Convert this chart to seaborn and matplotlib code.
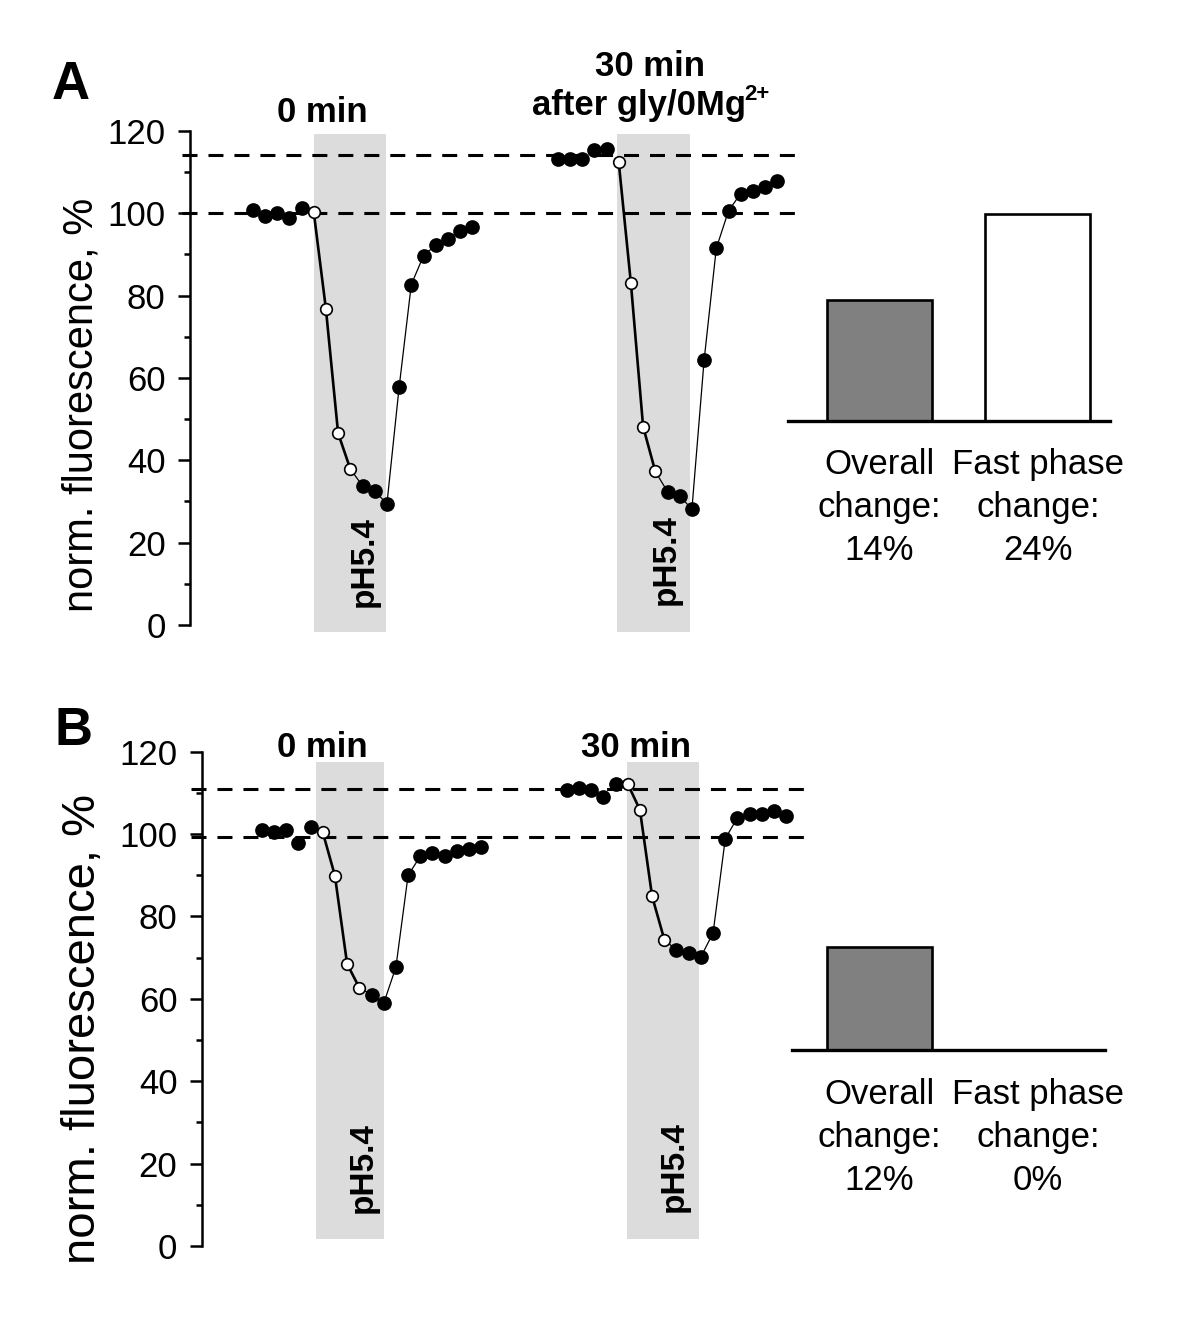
import numpy as np
import pandas as pd
import matplotlib
matplotlib.use("Agg")
import matplotlib.pyplot as plt
import seaborn as sns

# ---------------- data ----------------
# normalised fluorescence (%) per sample; samples 5-8 = fast phase (open circles)
trace_A_0min = [100.8, 99.4, 100.2, 98.9, 101.4, 100.4, 76.8, 46.6, 37.9, 33.8,
                32.6, 29.4, 57.7, 82.7, 89.7, 92.3, 93.8, 95.8, 96.8]
trace_A_30min = [113.3, 113.2, 113.2, 115.4, 115.6, 112.5, 83.0, 48.2, 37.3, 32.4,
                 31.4, 28.1, 64.3, 91.5, 100.6, 104.8, 105.5, 106.4, 107.8]
trace_B_0min = [101.0, 100.6, 101.0, 97.8, 101.6, 100.5, 89.9, 68.5, 62.7, 61.0,
                58.9, 67.7, 90.0, 94.6, 95.5, 94.8, 96.0, 96.5, 96.8]
trace_B_30min = [110.7, 111.1, 110.7, 109.0, 112.2, 112.2, 105.9, 84.9, 74.4, 71.8,
                 71.1, 70.2, 76.0, 98.9, 104.0, 104.9, 104.9, 105.6, 104.3]
recording_start = [0, 25]          # sample offset of the 0 min / 30 min recordings
fast_phase_samples = [5, 6, 7, 8]  # open circles
dashed_A = [100.1, 114.2]
dashed_B = [99.3, 110.9]
acid_window_A = [(5.02, 10.93), (29.86, 35.84)]
acid_window_B = [(4.45, 10.02), (29.97, 35.87)]
bar_names = ["Overall\nchange:", "Fast phase\nchange:"]
bars_A = [14, 24]
bars_B = [12, 0]
yticks = [0, 20, 40, 60, 80, 100, 120]

# ---------------- style ----------------
sns.set_theme(style="white")
plt.rcParams["font.family"] = ["Liberation Sans", "DejaVu Sans"]
plt.rcParams["lines.scale_dashes"] = False
plt.rcParams["text.color"] = "black"
plt.rcParams["axes.labelcolor"] = "black"
plt.rcParams["xtick.color"] = "black"
plt.rcParams["ytick.color"] = "black"

W, H = 1200, 1338
fig = plt.figure(figsize=(W / 100, H / 100), dpi=100)


def add_ax(l, t, r, b):
    return fig.add_axes([l / W, 1 - b / H, (r - l) / W, (b - t) / H])


def trace_axes(left, right, x0, step, y0px, y120px):
    ppu = (y0px - y120px) / 120.0
    top = y120px - 1 * ppu
    bot = y0px + 3 * ppu
    ax = add_ax(left, top, right, bot)
    ax.set_xlim((left - x0) / step, (right - x0) / step)
    ax.set_ylim(-3, 121)
    for s in ["top", "right", "bottom"]:
        ax.spines[s].set_visible(False)
    ax.spines["left"].set_bounds(0, 120)
    ax.spines["left"].set_linewidth(1.8)
    ax.spines["left"].set_color("black")
    ax.set_xticks([])
    ax.set_yticks(yticks)
    ax.set_yticks(np.arange(10, 120, 20), minor=True)
    ax.tick_params(axis="y", which="major", direction="out", length=8.5, width=1.8,
                   pad=9, labelsize=25, colors="black", left=True)
    ax.tick_params(axis="y", which="minor", direction="out", length=4.3, width=1.8,
                   left=True)
    ax.set_xlabel("")
    ax.set_ylabel("")
    ax.patch.set_alpha(0)
    return ax


def draw_trace(ax, vals, start):
    t = np.arange(len(vals)) + start
    df = pd.DataFrame({"t": t, "v": vals})
    fast = df.iloc[fast_phase_samples[0]:fast_phase_samples[-1] + 1]
    rest = df.iloc[fast_phase_samples[-1]:]
    sns.lineplot(data=fast, x="t", y="v", ax=ax, color="black", lw=1.9,
                 sort=False, estimator=None, zorder=2)
    sns.lineplot(data=rest, x="t", y="v", ax=ax, color="black", lw=0.9,
                 sort=False, estimator=None, zorder=2)
    filled = df.drop(index=fast_phase_samples)
    sns.scatterplot(data=filled, x="t", y="v", ax=ax, s=112, color="black",
                    edgecolor="black", linewidth=0, zorder=3)
    sns.scatterplot(data=df.iloc[fast_phase_samples], x="t", y="v", ax=ax, s=70,
                    color="white", edgecolor="black", linewidth=1.2, zorder=4)
    ax.set_xlabel("")
    ax.set_ylabel("")


def bar_axes(left, right, ybase, values):
    step = 158.6
    c0 = 879.2
    c1 = c0 + step
    top = ybase - 25 * 8.6
    ax = add_ax(left, top, right, ybase)
    labels = [f"{n}\n{v}%" for n, v in zip(bar_names, values)]
    sns.barplot(x=labels, y=values, hue=labels, palette=["#808080", "white"],
                edgecolor="black", linewidth=1.9, width=105 / step, ax=ax,
                legend=False, zorder=2)
    ax.set_xlim((left - c0) / step, 1 + (right - c1) / step)
    ax.set_ylim(0, 25)
    for s in ["top", "right", "left"]:
        ax.spines[s].set_visible(False)
    ax.spines["bottom"].set_linewidth(2.4)
    ax.spines["bottom"].set_color("black")
    ax.set_yticks([])
    ax.tick_params(axis="x", length=0, pad=20, labelsize=25, colors="black")
    for lab in ax.get_xticklabels():
        lab.set_linespacing(1.38)
    ax.set_xlabel("")
    ax.set_ylabel("")
    ax.patch.set_alpha(0)
    return ax


dash = (0, (10.8, 7.9))

# ---------------- panel A ----------------
axA = trace_axes(190, 800, 252.7, 12.2, 625, 131)
for (a, b) in acid_window_A:
    axA.fill_between([a, b], -1.7, 119.3, color="#dcdcdc", lw=0, zorder=0)
for lvl in dashed_A:
    axA.hlines(lvl, (182 - 252.7) / 12.2, (800 - 252.7) / 12.2, colors="black",
               linestyles=dash, lw=2.2, clip_on=False, zorder=1)
draw_trace(axA, trace_A_0min, recording_start[0])
draw_trace(axA, trace_A_30min, recording_start[1])
axA.text(9.86, 4.4, "pH5.4", rotation=90, rotation_mode="anchor", ha="left",
         va="baseline", fontsize=24, fontweight="bold", color="black", zorder=5)
axA.text(34.6, 4.9, "pH5.4", rotation=90, rotation_mode="anchor", ha="left",
         va="baseline", fontsize=24, fontweight="bold", color="black", zorder=5)
bar_axes(788, 1110, 420.7, bars_A)

# ---------------- panel B ----------------
axB = trace_axes(201.7, 808, 261.7, 12.2, 1246, 751.7)
for (a, b) in acid_window_B:
    axB.fill_between([a, b], 1.7, 117.6, color="#dcdcdc", lw=0, zorder=0)
for lvl in dashed_B:
    axB.hlines(lvl, (191 - 261.7) / 12.2, (808 - 261.7) / 12.2, colors="black",
               linestyles=dash, lw=2.2, clip_on=False, zorder=1)
draw_trace(axB, trace_B_0min, recording_start[0])
draw_trace(axB, trace_B_30min, recording_start[1])
axB.text(8.98, 8.0, "pH5.4", rotation=90, rotation_mode="anchor", ha="left",
         va="baseline", fontsize=24, fontweight="bold", color="black", zorder=5)
axB.text(34.5, 8.3, "pH5.4", rotation=90, rotation_mode="anchor", ha="left",
         va="baseline", fontsize=24, fontweight="bold", color="black", zorder=5)
bar_axes(791.7, 1105, 1050, bars_B)

# ---------------- figure texts ----------------
def ftext(px, py, s, **kw):
    return fig.text(px / W, 1 - py / H, s, color="black", **kw)


ftext(51.7, 99, "A", fontsize=38, fontweight="bold", ha="left", va="baseline")
ftext(55, 745, "B", fontsize=38, fontweight="bold", ha="left", va="baseline")
ftext(93, 405, "norm. fluorescence, %", rotation=90, rotation_mode="anchor",
      ha="center", va="baseline", fontsize=30)
ftext(95, 1029, "norm. fluorescence, %", rotation=90, rotation_mode="anchor",
      ha="center", va="baseline", fontsize=34)
ftext(322, 122, "0 min", fontsize=25, fontweight="bold", ha="center", va="baseline")
ftext(650, 76, "30 min", fontsize=25, fontweight="bold", ha="center", va="baseline")
t_after = ftext(639, 115, "after gly/0Mg", fontsize=25, fontweight="bold",
                ha="center", va="baseline")
# superscript "2+" placed right after the main text
axA.annotate("2+", xy=(1.0, 0.0), xycoords=t_after, xytext=(-1.0, 15.5),
             textcoords="offset points", fontsize=16, fontweight="bold",
             color="black", ha="left", va="baseline", annotation_clip=False)
ftext(322, 757, "0 min", fontsize=25, fontweight="bold", ha="center", va="baseline")
ftext(636, 757, "30 min", fontsize=25, fontweight="bold", ha="center", va="baseline")

fig.savefig("out.png", dpi=100)
